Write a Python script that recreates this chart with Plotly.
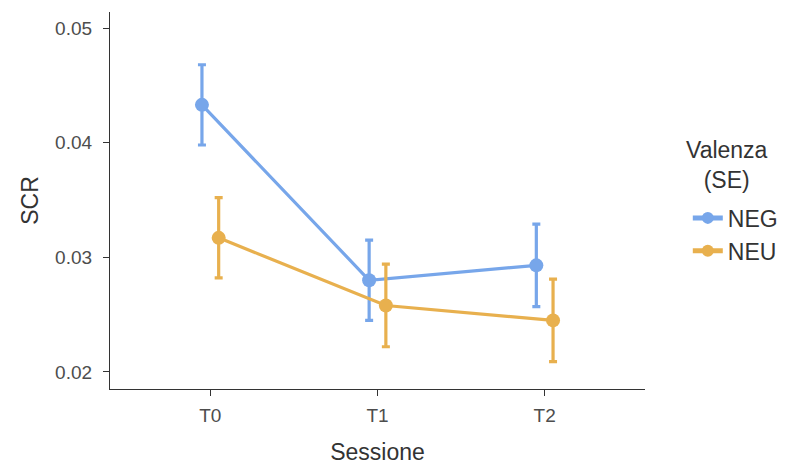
import plotly.graph_objects as go

sessions = ["T0", "T1", "T2"]
neg_mean = [0.0433, 0.0280, 0.0293]
neg_se = [0.0035, 0.0035, 0.0036]
neu_mean = [0.0317, 0.0258, 0.0245]
neu_se = [0.0035, 0.0036, 0.0036]
y_ticks = [0.02, 0.03, 0.04, 0.05]

blue = "#77a6ea"
orange = "#e8b04e"
dodge = 0.05

xi = list(range(len(sessions)))
fig = go.Figure()
for name, m, se, col, off in [("NEG", neg_mean, neg_se, blue, -dodge),
                              ("NEU", neu_mean, neu_se, orange, dodge)]:
    fig.add_trace(go.Scatter(
        x=[v + off for v in xi], y=m, name=name, mode="lines+markers",
        line=dict(color=col, width=3.2),
        marker=dict(color=col, size=14),
        error_y=dict(type="data", array=se, color=col, thickness=3.2, width=4),
    ))

fig.add_annotation(
    text="Valenza<br>(SE)", xref="paper", yref="paper", x=1.153, y=0.594,
    xanchor="center", yanchor="middle", align="center", showarrow=False,
    font=dict(size=23, color="#333333"),
)

fig.update_layout(
    width=783, height=457,
    margin=dict(l=102, r=146, t=4, b=76, autoexpand=False),
    paper_bgcolor="white", plot_bgcolor="white",
    font=dict(family="Liberation Sans, Arial, sans-serif", color="#4d4d4d"),
    showlegend=True,
    legend=dict(
        font=dict(size=23, color="#333333"),
        x=1.08, xanchor="left", y=0.41, yanchor="middle",
        itemsizing="constant", tracegroupgap=0,
    ),
    xaxis=dict(
        range=[-0.6, 2.6], tickmode="array", tickvals=xi, ticktext=sessions,
        showgrid=False, zeroline=False, showline=True, linecolor="#333333", linewidth=1.2,
        ticks="outside", ticklen=6, tickcolor="#333333", tickwidth=1.2,
        tickfont=dict(size=19, color="#4d4d4d"), automargin=False, ticklabelstandoff=3,
        title=dict(text="Sessione", font=dict(size=23, color="#333333"), standoff=20),
    ),
    yaxis=dict(
        range=[0.018515, 0.0514], tickmode="array", tickvals=y_ticks,
        ticktext=[f"{v:.2f}" for v in y_ticks],
        showgrid=False, zeroline=False, showline=True, linecolor="#333333", linewidth=1.2,
        ticks="outside", ticklen=6, tickcolor="#333333", tickwidth=1.2,
        tickfont=dict(size=19, color="#4d4d4d"), automargin=False, ticklabelstandoff=7,
        title=dict(text="SCR", font=dict(size=23, color="#333333"), standoff=10),
    ),
)

fig.write_html("out.html")
